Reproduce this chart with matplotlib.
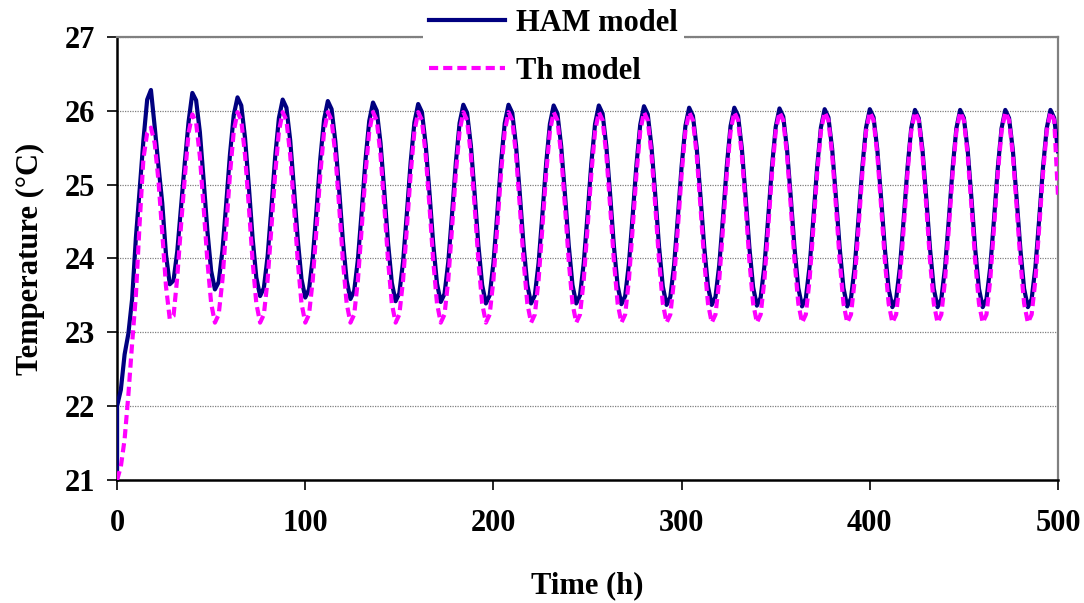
import numpy as np
import matplotlib
matplotlib.use("Agg")
import matplotlib.pyplot as plt

plt.rcParams['font.family'] = ['Liberation Serif', 'DejaVu Serif']
plt.rcParams['font.weight'] = 'bold'

# time axis, one reading every 2 h (0 ... 500 h)
hours = np.arange(0, 501, 2)

# HAM model (one row = one day); starts at 21 then jumps to 22
ham_start = 21.0
ham = [
    22.00, 22.22, 22.70, 22.98, 23.45, 24.28, 24.93, 25.60, 26.15, 26.28, 25.78, 25.25,
    24.75, 24.05, 23.65, 23.70, 24.10, 24.70, 25.30, 25.85, 26.24, 26.14, 25.71, 25.06,
    24.37, 23.83, 23.58, 23.68, 24.11, 24.74, 25.41, 25.94, 26.18, 26.07, 25.63, 24.98,
    24.28, 23.74, 23.49, 23.60, 24.03, 24.68, 25.37, 25.90, 26.15, 26.04, 25.60, 24.95,
    24.26, 23.72, 23.47, 23.58, 24.01, 24.66, 25.35, 25.88, 26.13, 26.02, 25.58, 24.93,
    24.24, 23.70, 23.45, 23.56, 23.99, 24.64, 25.33, 25.86, 26.11, 26.00, 25.56, 24.91,
    24.21, 23.67, 23.42, 23.53, 23.96, 24.61, 25.30, 25.84, 26.09, 25.98, 25.54, 24.89,
    24.20, 23.66, 23.41, 23.52, 23.95, 24.60, 25.29, 25.83, 26.08, 25.97, 25.53, 24.88,
    24.18, 23.64, 23.39, 23.50, 23.94, 24.59, 25.29, 25.83, 26.08, 25.97, 25.53, 24.88,
    24.18, 23.64, 23.39, 23.50, 23.94, 24.59, 25.28, 25.82, 26.07, 25.96, 25.52, 24.87,
    24.18, 23.64, 23.39, 23.50, 23.94, 24.59, 25.28, 25.82, 26.07, 25.96, 25.52, 24.87,
    24.17, 23.63, 23.38, 23.49, 23.93, 24.58, 25.27, 25.81, 26.06, 25.95, 25.51, 24.86,
    24.16, 23.62, 23.37, 23.48, 23.91, 24.56, 25.25, 25.79, 26.04, 25.93, 25.50, 24.85,
    24.16, 23.62, 23.37, 23.48, 23.91, 24.56, 25.25, 25.79, 26.04, 25.93, 25.49, 24.84,
    24.15, 23.61, 23.36, 23.47, 23.90, 24.55, 25.24, 25.78, 26.03, 25.92, 25.48, 24.83,
    24.14, 23.60, 23.35, 23.46, 23.89, 24.54, 25.23, 25.77, 26.02, 25.91, 25.48, 24.83,
    24.14, 23.60, 23.35, 23.46, 23.89, 24.54, 25.23, 25.77, 26.02, 25.91, 25.47, 24.82,
    24.13, 23.59, 23.34, 23.45, 23.88, 24.53, 25.22, 25.76, 26.01, 25.90, 25.47, 24.82,
    24.13, 23.59, 23.34, 23.45, 23.88, 24.53, 25.22, 25.76, 26.01, 25.90, 25.47, 24.82,
    24.13, 23.59, 23.34, 23.45, 23.88, 24.53, 25.22, 25.76, 26.01, 25.90, 25.47, 24.82,
    24.13, 23.59, 23.34, 23.45, 23.88, 24.53, 25.22, 25.76, 26.01, 25.90, 25.45,
]

# Th model
th = [
    21.00, 21.18, 21.55, 22.15, 22.85, 23.50, 24.48, 25.35, 25.70, 25.77, 25.56, 25.05,
    24.35, 23.62, 23.18, 23.22, 23.75, 24.45, 25.10, 25.70, 25.95, 25.84, 25.38, 24.69,
    23.96, 23.39, 23.13, 23.24, 23.71, 24.41, 25.14, 25.72, 25.98, 25.87, 25.40, 24.71,
    23.97, 23.39, 23.13, 23.24, 23.71, 24.41, 25.14, 25.72, 25.98, 25.87, 25.40, 24.71,
    23.97, 23.39, 23.13, 23.24, 23.71, 24.41, 25.14, 25.72, 25.98, 25.87, 25.40, 24.71,
    23.97, 23.39, 23.13, 23.24, 23.71, 24.41, 25.14, 25.72, 25.98, 25.87, 25.40, 24.71,
    23.97, 23.39, 23.13, 23.24, 23.71, 24.41, 25.14, 25.72, 25.98, 25.87, 25.40, 24.71,
    23.97, 23.39, 23.13, 23.24, 23.71, 24.41, 25.14, 25.72, 25.98, 25.87, 25.40, 24.71,
    23.97, 23.39, 23.13, 23.24, 23.71, 24.41, 25.14, 25.72, 25.98, 25.87, 25.40, 24.71,
    23.97, 23.39, 23.13, 23.24, 23.71, 24.41, 25.14, 25.72, 25.98, 25.87, 25.40, 24.71,
    23.97, 23.39, 23.13, 23.24, 23.71, 24.41, 25.14, 25.72, 25.98, 25.87, 25.40, 24.71,
    23.97, 23.39, 23.13, 23.24, 23.71, 24.41, 25.14, 25.72, 25.98, 25.87, 25.40, 24.71,
    23.97, 23.39, 23.13, 23.24, 23.71, 24.41, 25.14, 25.72, 25.98, 25.87, 25.40, 24.71,
    23.97, 23.39, 23.13, 23.24, 23.71, 24.41, 25.14, 25.72, 25.98, 25.87, 25.40, 24.71,
    23.97, 23.39, 23.13, 23.24, 23.71, 24.41, 25.14, 25.72, 25.98, 25.87, 25.40, 24.71,
    23.97, 23.39, 23.13, 23.24, 23.71, 24.41, 25.14, 25.72, 25.98, 25.87, 25.40, 24.71,
    23.97, 23.39, 23.13, 23.24, 23.71, 24.41, 25.14, 25.72, 25.98, 25.87, 25.40, 24.71,
    23.97, 23.39, 23.13, 23.24, 23.71, 24.41, 25.14, 25.72, 25.98, 25.87, 25.40, 24.71,
    23.97, 23.39, 23.13, 23.24, 23.71, 24.41, 25.14, 25.72, 25.98, 25.87, 25.40, 24.71,
    23.97, 23.39, 23.13, 23.24, 23.71, 24.41, 25.14, 25.72, 25.98, 25.87, 25.40, 24.71,
    23.97, 23.39, 23.13, 23.24, 23.71, 24.41, 25.14, 25.72, 25.98, 25.87, 24.85,
]

x_ticks = [0, 100, 200, 300, 400, 500]
y_ticks = [21, 22, 23, 24, 25, 26, 27]

fig = plt.figure(figsize=(10.84, 6.03), dpi=100)
ax = fig.add_axes([0.108, 0.204, 0.868, 0.735])

ax.plot(np.concatenate([[0], hours]), [ham_start] + ham, color='#000080', lw=3.0,
        label='HAM model', zorder=3)
ax.plot(hours, th, color='#FF00FF', lw=3.0, ls=(0, (2.2, 1.2)),
        label='Th model', zorder=4)

ax.set_xlim(0, 500)
ax.set_ylim(21, 27)
ax.set_xticks(x_ticks)
ax.set_yticks(y_ticks)
ax.tick_params(axis='x', direction='out', length=7, width=1.2, pad=14, labelsize=22)
ax.tick_params(axis='y', direction='out', length=7, width=1.2, pad=9, labelsize=22)

ax.yaxis.grid(True, color='#808080', ls=(0, (1, 1)), lw=0.9)
ax.set_axisbelow(True)

ax.spines['left'].set_color('black')
ax.spines['bottom'].set_color('black')
ax.spines['left'].set_linewidth(1.8)
ax.spines['bottom'].set_linewidth(1.8)
ax.spines['top'].set_color('#808080')
ax.spines['right'].set_color('#808080')
ax.spines['top'].set_linewidth(1.6)
ax.spines['right'].set_linewidth(1.6)

ax.set_xlabel('Time (h)', fontsize=22, fontweight='bold', labelpad=24)
ax.set_ylabel('Temperature (°C)', fontsize=22, fontweight='bold', labelpad=14)

leg = fig.legend(loc='upper left', bbox_to_anchor=(0.39, 0.995), fontsize=22,
                 frameon=True, fancybox=False, edgecolor='none', facecolor='white',
                 framealpha=1, handlelength=2.5, handletextpad=0.35,
                 labelspacing=0.62, borderpad=0.2, borderaxespad=0)
for t in leg.get_texts():
    t.set_fontweight('bold')

fig.savefig('out.png', dpi=100)
